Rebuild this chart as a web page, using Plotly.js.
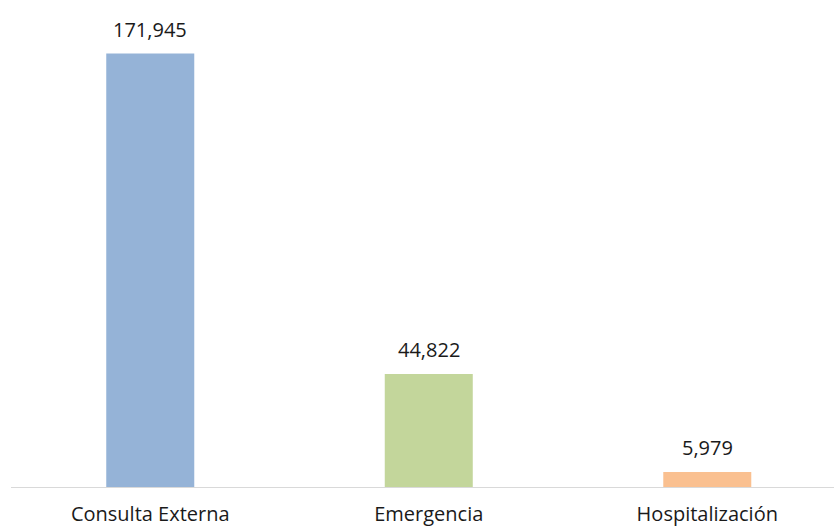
<!DOCTYPE html>
<html>
<head>
<meta charset="utf-8">
<script src="https://cdn.plot.ly/plotly-3.0.1.min.js"></script>
<style>html,body{margin:0;padding:0;background:#fff;overflow:hidden}#chart{width:834px;height:528px}</style>
</head>
<body>
<div id="chart"></div>
<script>
const categories = ["Consulta Externa", "Emergencia", "Hospitalización"];
const values = [171945, 44822, 5979];
const valueLabels = ["171,945", "44,822", "5,979"];
const barColors = ["#95B3D7", "#C3D69B", "#FAC090"];

const FONT = "Open Sans, Liberation Sans, sans-serif";

const trace = {
  type: "bar",
  x: categories,
  y: values,
  width: 0.316,
  marker: { color: barColors, line: { width: 0 } },
  hoverinfo: "none"
};

const annotations = categories.map((c, i) => ({
  x: c, y: values[i], xref: "x", yref: "y",
  text: valueLabels[i], showarrow: false,
  yanchor: "bottom", xanchor: "center", yshift: 9,
  font: { family: FONT, size: 20, color: "#1a1a1a" }
}));

const layout = {
  width: 834, height: 528,
  margin: { l: 11, r: 0, t: 8, b: 41, pad: 0 },
  paper_bgcolor: "#fff", plot_bgcolor: "#fff",
  showlegend: false,
  xaxis: {
    type: "category",
    range: [-0.5, 2.455],
    showline: true, linecolor: "#d9d9d9", linewidth: 1,
    ticks: "", showgrid: false, zeroline: false,
    tickfont: { family: FONT, size: 20, color: "#1a1a1a" },
    ticklabelstandoff: 9
  },
  yaxis: {
    range: [0, 190000],
    visible: false, showgrid: false, zeroline: false
  },
  annotations: annotations
};

Plotly.newPlot("chart", [trace], layout, { staticPlot: true, displayModeBar: false });
</script>
</body>
</html>
